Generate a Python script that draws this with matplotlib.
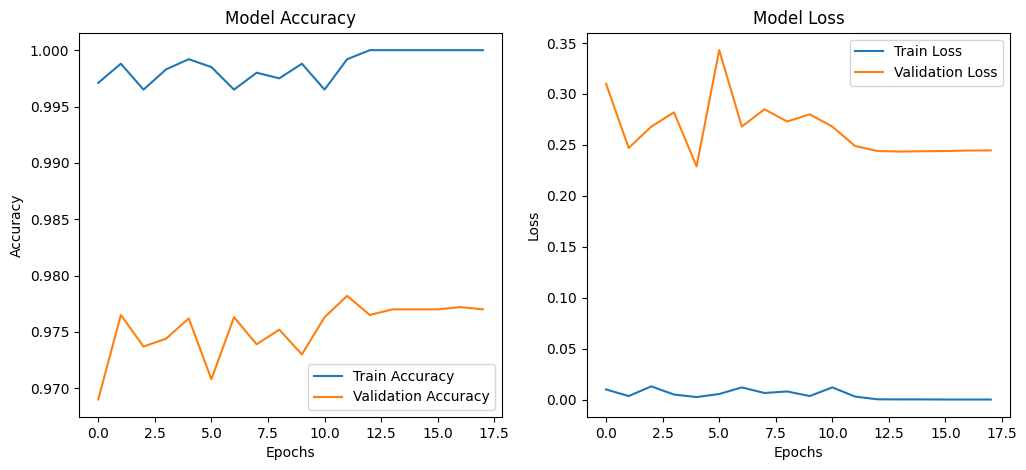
import numpy as np
import matplotlib
matplotlib.use("Agg")
import matplotlib.pyplot as plt

epochs = np.arange(18)

train_acc = [0.9971, 0.9988, 0.9965, 0.9983, 0.9992, 0.9985, 0.9965, 0.9980, 0.9975,
             0.9988, 0.9965, 0.9992, 1.0, 1.0, 1.0, 1.0, 1.0, 1.0]
val_acc = [0.9690, 0.9765, 0.9737, 0.9744, 0.9762, 0.9708, 0.9763, 0.9739, 0.9752,
           0.9730, 0.9763, 0.9782, 0.9765, 0.9770, 0.9770, 0.9770, 0.9772, 0.9770]

train_loss = [0.010, 0.0035, 0.013, 0.005, 0.0025, 0.0055, 0.012, 0.0065, 0.008,
              0.0035, 0.012, 0.003, 0.0003, 0.0002, 0.0002, 0.0001, 0.0001, 0.0001]
val_loss = [0.310, 0.247, 0.268, 0.282, 0.229, 0.343, 0.268, 0.285, 0.273,
            0.280, 0.268, 0.249, 0.244, 0.2435, 0.2438, 0.244, 0.2445, 0.2446]

fig = plt.figure(figsize=(10.26, 4.7), dpi=100)
fig.subplots_adjust(left=0.077, right=0.9844, top=0.9304, bottom=0.1128, wspace=0.2)

plt.subplot(1, 2, 1)
plt.plot(epochs, train_acc, label='Train Accuracy')
plt.plot(epochs, val_acc, label='Validation Accuracy')
plt.title('Model Accuracy')
plt.xlabel('Epochs')
plt.ylabel('Accuracy')
plt.legend()

plt.subplot(1, 2, 2)
plt.plot(epochs, train_loss, label='Train Loss')
plt.plot(epochs, val_loss, label='Validation Loss')
plt.title('Model Loss')
plt.xlabel('Epochs')
plt.ylabel('Loss')
plt.legend()

plt.savefig("out.png", dpi=100)
